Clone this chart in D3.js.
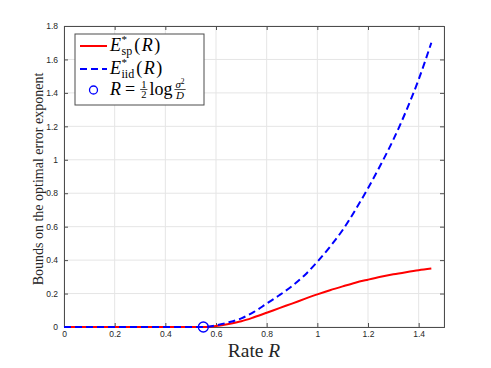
<!DOCTYPE html>
<html lang="en">
<head>
  <meta charset="utf-8">
  <title>Error exponent bounds</title>
  <script src="https://cdn.jsdelivr.net/npm/d3@7"></script>
  <style>
    body { margin: 0; background: #fff; }
    .tick-label { font: 8.5px "Liberation Sans", Arial, sans-serif; fill: #262626; }
  </style>
</head>
<body>
<script>
  // rates (x) and the two bounds
  var rate  = [0, 0.1, 0.2, 0.3, 0.4, 0.5, 0.55, 0.6, 0.65, 0.7, 0.75, 0.8, 0.85, 0.9, 0.95, 1.0,
               1.05, 1.1, 1.15, 1.2, 1.25, 1.3, 1.35, 1.4, 1.45];
  var eSp   = [0, 0, 0, 0, 0, 0, 0, 0.006, 0.018, 0.034, 0.058, 0.085, 0.113, 0.14, 0.168, 0.195,
               0.22, 0.243, 0.265, 0.283, 0.3, 0.315, 0.328, 0.34, 0.35];
  var eIid  = [0, 0, 0, 0, 0, 0, 0, 0.01, 0.028, 0.052, 0.09, 0.14, 0.19, 0.245, 0.31, 0.39,
               0.48, 0.58, 0.70, 0.83, 0.97, 1.12, 1.29, 1.48, 1.70];
  var markerR = [0.55];
  var markerE = [0];
  var xTicks = [0, 0.2, 0.4, 0.6, 0.8, 1, 1.2, 1.4];
  var yTicks = [0, 0.2, 0.4, 0.6, 0.8, 1, 1.2, 1.4, 1.6, 1.8];

  var W = 491, H = 368;
  var pl = 64, pr = 444, pt = 26, pb = 327;
  var serif = '"Liberation Serif", "Times New Roman", serif';

  var x = d3.scaleLinear().domain([0, 1.5]).range([pl, pr]);
  var y = d3.scaleLinear().domain([0, 1.8]).range([pb, pt]);

  var svg = d3.select("body").append("svg")
    .attr("width", W).attr("height", H);

  // grid
  svg.append("g").selectAll("line").data(xTicks.concat([1.5])).enter().append("line")
    .attr("x1", d => x(d)).attr("x2", d => x(d))
    .attr("y1", pt).attr("y2", pb)
    .attr("stroke", "#e5e5e5").attr("stroke-width", 1);
  svg.append("g").selectAll("line").data(yTicks).enter().append("line")
    .attr("y1", d => y(d)).attr("y2", d => y(d))
    .attr("x1", pl).attr("x2", pr)
    .attr("stroke", "#e5e5e5").attr("stroke-width", 1);

  // axes (MATLAB style box with inward ticks)
  var xAxis = d3.axisBottom(x).tickValues(xTicks).tickSize(-4).tickPadding(4)
    .tickFormat(d3.format("~g"));
  var yAxis = d3.axisLeft(y).tickValues(yTicks).tickSize(-4).tickPadding(6)
    .tickFormat(d3.format("~g"));

  svg.append("g").attr("transform", "translate(0," + pb + ")").call(xAxis);
  svg.append("g").attr("transform", "translate(" + pl + ",0)").call(yAxis);
  svg.append("g").attr("transform", "translate(0," + pt + ")")
    .call(d3.axisTop(x).tickValues(xTicks).tickSize(-4).tickFormat(""));
  svg.append("g").attr("transform", "translate(" + pr + ",0)")
    .call(d3.axisRight(y).tickValues(yTicks).tickSize(-4).tickFormat(""));

  svg.selectAll(".domain").attr("stroke", "#4d4d4d").attr("stroke-width", 1);
  svg.selectAll(".tick line").attr("stroke", "#4d4d4d");
  svg.selectAll(".tick text").attr("class", "tick-label");
  svg.selectAll("g[font-size]").attr("font-size", null).attr("font-family", null);

  // curves
  var pts = (ys) => rate.map((r, i) => [r, ys[i]]);
  var line = d3.line().x(d => x(d[0])).y(d => y(d[1])).curve(d3.curveMonotoneX);

  svg.append("path").datum(pts(eSp))
    .attr("d", line).attr("fill", "none")
    .attr("stroke", "#ff0000").attr("stroke-width", 2);
  svg.append("path").datum(pts(eIid))
    .attr("d", line).attr("fill", "none")
    .attr("stroke", "#0000ff").attr("stroke-width", 2)
    .attr("stroke-dasharray", "7,4");

  svg.selectAll(".marker").data(markerR).enter().append("circle")
    .attr("cx", d => x(d)).attr("cy", (d, i) => y(markerE[i]))
    .attr("r", 5).attr("fill", "none")
    .attr("stroke", "#0000ff").attr("stroke-width", 1.3);

  // axis labels
  svg.append("text")
    .attr("x", 254).attr("y", 357)
    .attr("text-anchor", "middle")
    .style("font-family", serif).style("font-size", "19.5px").style("fill", "#262626")
    .html('Rate <tspan font-style="italic">R</tspan>');

  svg.append("text")
    .attr("transform", "translate(43,179) rotate(-90)")
    .attr("text-anchor", "middle")
    .style("font-family", serif).style("font-size", "14px").style("fill", "#262626")
    .text("Bounds on the optimal error exponent");

  // legend
  var leg = svg.append("g");
  leg.append("rect")
    .attr("x", 75).attr("y", 34).attr("width", 129).attr("height", 71)
    .attr("fill", "#fff").attr("stroke", "#4d4d4d").attr("stroke-width", 1);

  leg.append("line").attr("x1", 80).attr("x2", 107).attr("y1", 46).attr("y2", 46)
    .attr("stroke", "#ff0000").attr("stroke-width", 2);
  leg.append("line").attr("x1", 80).attr("x2", 107).attr("y1", 69).attr("y2", 69)
    .attr("stroke", "#0000ff").attr("stroke-width", 2).attr("stroke-dasharray", "7,4");
  leg.append("circle").attr("cx", 93.5).attr("cy", 90).attr("r", 4)
    .attr("fill", "none").attr("stroke", "#0000ff").attr("stroke-width", 1.3);

  function piece(g, s, px, py, size, it) {
    var t = g.append("text").attr("x", px).attr("y", py)
      .style("font-family", serif).style("font-size", size + "px")
      .style("font-style", it ? "italic" : "normal").style("fill", "#000")
      .text(s);
    return t.node().getComputedTextLength();
  }

  // parts: {s, size, it, dy, stack} - stack keeps x for the next part (super over sub)
  function mathRow(g, x0, y0, parts) {
    var cx = x0, pend = 0;
    parts.forEach(function(p) {
      if (p.frac) {
        var wn = 0, wd = 0, gn = g.append("g"), gd = g.append("g");
        p.num.forEach(q => { wn += piece(gn, q.s, cx + wn, y0 + p.ny + (q.dy || 0), q.size, q.it); });
        p.den.forEach(q => { wd += piece(gd, q.s, cx + wd, y0 + p.dyd + (q.dy || 0), q.size, q.it); });
        var w = Math.max(wn, wd) + 2;
        gn.attr("transform", "translate(" + (w - wn) / 2 + ",0)");
        gd.attr("transform", "translate(" + (w - wd) / 2 + ",0)");
        g.append("line").attr("x1", cx).attr("x2", cx + w)
          .attr("y1", y0 - 5.5).attr("y2", y0 - 5.5).attr("stroke", "#000").attr("stroke-width", 0.7);
        cx += w + (p.pad || 0);
        return;
      }
      var w = piece(g, p.s, cx, y0 + (p.dy || 0), p.size, p.it);
      if (p.stack) { pend = Math.max(pend, w); }
      else { cx += Math.max(w, pend) + (p.pad || 0); pend = 0; }
    });
  }

  mathRow(leg, 110, 51, [
    {s: "E", size: 18, it: true, pad: 0.5},
    {s: "*", size: 11, dy: -8, stack: true},
    {s: "sp", size: 12, dy: 4, pad: 2},
    {s: "(", size: 18, pad: 1.5},
    {s: "R", size: 18, it: true, pad: 1.5},
    {s: ")", size: 18}
  ]);
  mathRow(leg, 110, 74, [
    {s: "E", size: 18, it: true, pad: 0.5},
    {s: "*", size: 11, dy: -8, stack: true},
    {s: "iid", size: 12, dy: 4, pad: 2},
    {s: "(", size: 18, pad: 1.5},
    {s: "R", size: 18, it: true, pad: 1.5},
    {s: ")", size: 18}
  ]);
  mathRow(leg, 110, 95, [
    {s: "R", size: 18, it: true, pad: 4},
    {s: "=", size: 18, pad: 5},
    {frac: true, num: [{s: "1", size: 10.5}], den: [{s: "2", size: 10.5}], ny: -7.5, dyd: 3, pad: 2},
    {s: "log", size: 18, pad: 2},
    {frac: true, num: [{s: "σ", size: 11, it: true}, {s: "2", size: 7.5, dy: -3.5}],
     den: [{s: "D", size: 11, it: true}], ny: -7.5, dyd: 3.5}
  ]);
</script>
</body>
</html>
